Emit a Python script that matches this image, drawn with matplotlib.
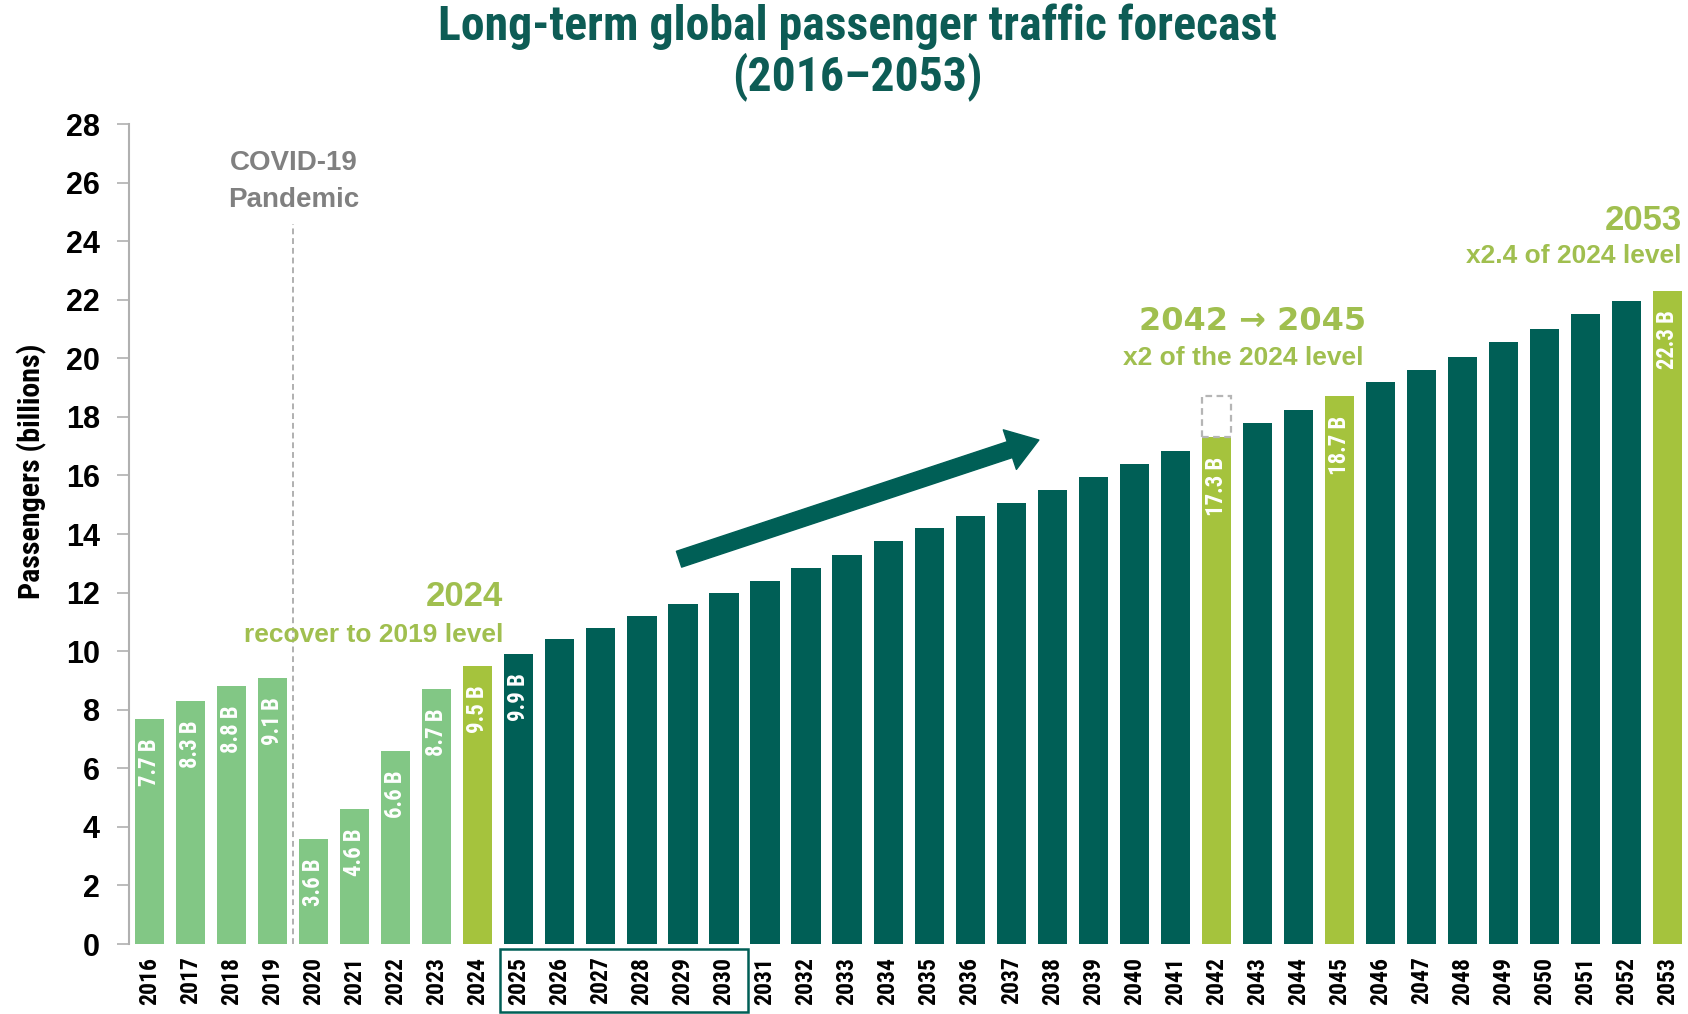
import matplotlib
matplotlib.use('Agg')
import matplotlib.pyplot as plt
from matplotlib import font_manager
from matplotlib.patches import Rectangle, FancyArrowPatch
import matplotlib.transforms as mtransforms
import numpy as np

# data
years = list(range(2016, 2054))
passengers = [7.7, 8.3, 8.8, 9.1, 3.6, 4.6, 6.6, 8.7, 9.5, 9.9,
              10.4, 10.8, 11.2, 11.6, 12.0, 12.4, 12.85, 13.3, 13.75, 14.2,
              14.6, 15.05, 15.5, 15.95, 16.4, 16.85, 17.3, 17.8, 18.25, 18.7,
              19.2, 19.6, 20.05, 20.55, 21.0, 21.5, 21.95, 22.3]
# h = historical, m = milestone, f = forecast
bar_kind = ['h'] * 8 + ['m'] + ['f'] * 17 + ['m'] + ['f'] * 2 + ['m'] + ['f'] * 7 + ['m']
labelled_years = [2016, 2017, 2018, 2019, 2020, 2021, 2022, 2023, 2024, 2025, 2042, 2045, 2053]
double_level = 18.7   # 2x of 2024 level, dashed box on 2042
boxed_years = (2025, 2030)

# fonts: look for a condensed face, otherwise plain DejaVu Sans
entries = font_manager.fontManager.ttflist
names = {f.name for f in entries}
narrow_family, narrow_stretch = 'DejaVu Sans', 'normal'
for fam in ['Roboto Condensed', 'Open Sans Condensed', 'Liberation Sans Narrow', 'Noto Sans',
            'DejaVu Sans', 'Roboto', 'Open Sans']:
    cands = [f for f in entries if f.name == fam and str(f.stretch) in
             ('condensed', 'semi-condensed', 'extra-condensed', 'narrow')]
    if fam in names and (cands or 'Condensed' in fam or 'Narrow' in fam):
        narrow_family = fam
        narrow_stretch = str(cands[0].stretch) if cands else 'normal'
        break
wide = 'Liberation Sans' if 'Liberation Sans' in names else 'DejaVu Sans'
plt.rcParams['font.family'] = [wide, 'DejaVu Sans']
narrow = dict(family=narrow_family, stretch=narrow_stretch, fontweight='bold')

light_green = '#82c785'
olive = '#a5c33d'
dark = '#005f56'
note_green = '#a0bf4f'
grey = '#808080'
colors = {'h': light_green, 'm': olive, 'f': dark}

fig = plt.figure(figsize=(16.88, 10.14), dpi=100)
ax = fig.add_axes([0.0764, 0.069, 0.9236, 0.8087])

x = np.arange(len(years))
ax.bar(x, passengers, width=0.71, color=[colors[k] for k in bar_kind], zorder=2)

# value labels inside bars
bar_labels = []
for i, (yr, v) in enumerate(zip(years, passengers)):
    if yr in labelled_years:
        t = ax.annotate('%.1f B' % v, xy=(i, v), xytext=(0, -14), textcoords='offset points',
                        rotation=90, ha='center', va='top', color='white',
                        fontsize=15, zorder=3, **narrow)
        bar_labels.append(t)

# dashed box on 2042 showing the 2x level
i42 = years.index(2042)
ax.bar(i42, double_level - passengers[i42], bottom=passengers[i42], width=0.71,
       fill=False, edgecolor='#b5b5b5', linestyle=(0, (3, 2)), linewidth=1.6, zorder=2)

# covid line
ax.plot([3.5, 3.5], [0, 24.6], color='#b0b0b0', linestyle=(0, (3, 2)), linewidth=1.4, zorder=1)
ax.text(3.5, 26.66, 'COVID-19', ha='center', va='center', color=grey, fontsize=20, fontweight='bold')
ax.text(3.5, 25.4, 'Pandemic', ha='center', va='center', color=grey, fontsize=20, fontweight='bold')

# annotations
ax.text(8.62, 11.85, '2024', ha='right', va='center', color=note_green, fontsize=25, fontweight='bold')
ax.text(8.62, 10.55, 'recover to 2019 level', ha='right', va='center', color=note_green,
        fontsize=19, fontweight='bold')
ax.text(26.89, 21.27, '2042 \u2192 2045', ha='center', va='center', color=note_green,
        fontsize=23, fontweight='bold', family=['DejaVu Sans'])
ax.text(26.67, 20.0, 'x2 of the 2024 level', ha='center', va='center', color=note_green,
        fontsize=19, fontweight='bold')
ax.text(37.35, 24.72, '2053', ha='right', va='center', color=note_green, fontsize=25, fontweight='bold')
ax.text(37.35, 23.49, 'x2.4 of 2024 level', ha='right', va='center', color=note_green,
        fontsize=19, fontweight='bold')

# trend arrow
arrow = FancyArrowPatch((12.84, 13.11), (21.74, 17.24),
                        arrowstyle='simple,head_width=3.0,head_length=2.2,tail_width=1.2',
                        mutation_scale=10, color=dark, zorder=4)
ax.add_patch(arrow)

# box around 2025-2030 tick labels
trans = mtransforms.blended_transform_factory(ax.transData, ax.transAxes)
b0 = years.index(boxed_years[0]) - 0.45
b1 = years.index(boxed_years[1]) + 0.59
ax.add_patch(Rectangle((b0, -0.083), b1 - b0, 0.077, transform=trans, fill=False,
                       edgecolor=dark, linewidth=1.8, clip_on=False))

# axes styling
ax.set_xlim(-0.505, 37.5)
ax.set_ylim(0, 28)
ax.set_yticks(range(0, 29, 2))
ax.set_xticks(x)
ax.set_xticklabels([str(y) for y in years], rotation=90, fontsize=15, **narrow)
for lab in ax.get_yticklabels():
    lab.set_fontsize(22)
    lab.set_fontweight('bold')
ax.tick_params(axis='x', length=0, pad=9)
ax.tick_params(axis='y', length=9, width=1.2, color='#b0b0b0', pad=12)
for s in ['top', 'right', 'bottom']:
    ax.spines[s].set_visible(False)
ax.spines['left'].set_color('#b0b0b0')
ax.spines['left'].set_linewidth(1.5)

ylab = fig.text(32 / 1688, 1 - 471 / 1014, 'Passengers (billions)', rotation=90, ha='center',
                va='center', fontsize=20, **narrow)

title_color = '#0d5c55'
t1 = fig.text(0.508, 0.974, 'Long-term global passenger traffic forecast', ha='center', va='center',
              color=title_color, fontsize=33, **narrow)
t2 = fig.text(0.508, 0.924, '(2016\u20132053)', ha='center', va='center',
              color=title_color, fontsize=33, **narrow)

# resize the condensed-style texts so that their lengths match the original
fig.canvas.draw()
r = fig.canvas.get_renderer()


def fit(texts, target, use_height=False):
    bb = texts[0].get_window_extent(r)
    cur = bb.height if use_height else bb.width
    size = texts[0].get_fontsize() * target / cur
    for t in texts:
        t.set_fontsize(size)
    return size


s = fit([t1], 840)
t2.set_fontsize(s)
fit([ylab], 255, use_height=True)
fit(ax.get_xticklabels(), 48, use_height=True)
fit(bar_labels, 48, use_height=True)

fig.savefig('out.png', dpi=100)
